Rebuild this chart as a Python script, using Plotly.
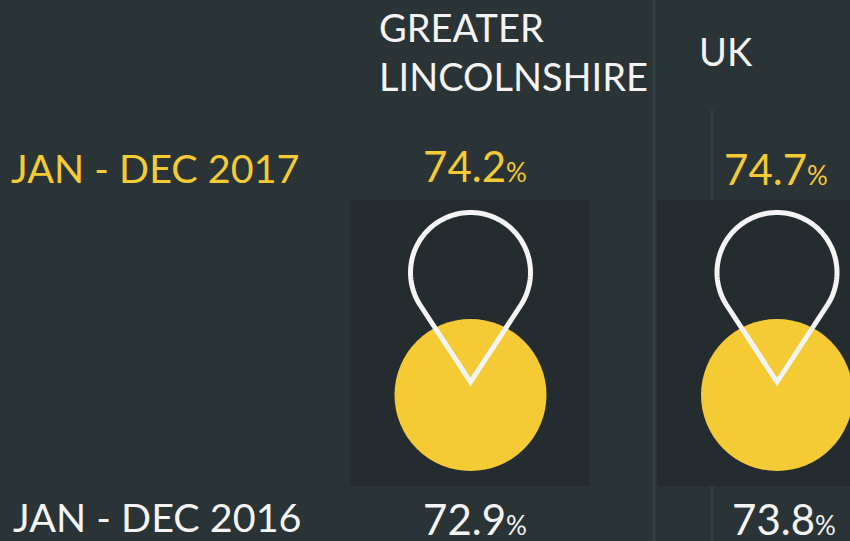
import numpy as np
import plotly.graph_objects as go

# Data
regions = ["GREATER<br>LINCOLNSHIRE", "UK"]
period_current = "JAN - DEC 2017"
period_previous = "JAN - DEC 2016"
values_2017 = [74.2, 74.7]
values_2016 = [72.9, 73.8]

W, H = 850, 541
BG, PANEL, RULE = "#2a3336", "#242c2f", "#334043"
YELLOW, WHITE = "#f4ca35", "#f4f4f4"
FONT = "Lato"
COL_X = [470.5, 777]


def pin_path(cx, cy=272.5, r=60, tip=382):
    th = np.linspace(np.radians(212), np.radians(-32), 80)
    xs = cx + r * np.cos(th)
    ys = cy - r * np.sin(th)
    return f"M{cx},{tip}" + "".join(f"L{x:.2f},{y:.2f}" for x, y in zip(xs, ys)) + "Z"


def pct(v, size=26):
    return f"{v:.1f}<span style='font-size:{size}px'>%</span>"


shapes = [
    dict(type="rect", x0=652.5, x1=655.5, y0=0, y1=H, fillcolor=RULE, line_width=0, layer="below"),
    dict(type="rect", x0=710.5, x1=713.5, y0=110, y1=200, fillcolor=RULE, line_width=0, layer="below"),
    dict(type="rect", x0=710.5, x1=713.5, y0=486, y1=H, fillcolor=RULE, line_width=0, layer="below"),
    dict(type="rect", x0=350, x1=589, y0=200, y1=486, fillcolor=PANEL, line_width=0, layer="below"),
    dict(type="rect", x0=657, x1=W, y0=200, y1=486, fillcolor=PANEL, line_width=0, layer="below"),
]
for cx in COL_X:
    shapes.append(dict(type="path", path=pin_path(cx), line=dict(color=WHITE, width=5),
                       fillcolor="rgba(0,0,0,0)", layer="above"))

fig = go.Figure()
fig.add_trace(go.Scatter(x=COL_X, y=[395, 395], mode="markers",
                         marker=dict(size=152, color=YELLOW, line_width=0),
                         hoverinfo="skip", showlegend=False))


def text(xs, ys, labels, size, color, pos="middle center"):
    fig.add_trace(go.Scatter(x=xs, y=ys, mode="text", text=labels, textposition=pos,
                             textfont=dict(family=FONT, size=size, color=color),
                             hoverinfo="skip", showlegend=False, cliponaxis=False))


text([379], [57], [regions[0]], 38, WHITE, "middle right")
text([699], [56], [regions[1]], 38, WHITE, "middle right")
text([11], [173], [period_current], 39.5, YELLOW, "middle right")
text([13], [522], [period_previous], 39.5, WHITE, "middle right")
text([475, 776], [171, 174], [pct(v) for v in values_2017], 42, YELLOW)
text([475, 784], [524, 524], [pct(v) for v in values_2016], 42, WHITE)

fig.update_layout(
    width=W, height=H, margin=dict(l=0, r=0, t=0, b=0),
    paper_bgcolor=BG, plot_bgcolor=BG, shapes=shapes,
    xaxis=dict(range=[0, W], visible=False, fixedrange=True),
    yaxis=dict(range=[H, 0], visible=False, fixedrange=True),
)
fig.write_html("out.html", config={"displayModeBar": False},
               post_script="document.body.style.margin='0';document.documentElement.style.overflow='hidden';")
